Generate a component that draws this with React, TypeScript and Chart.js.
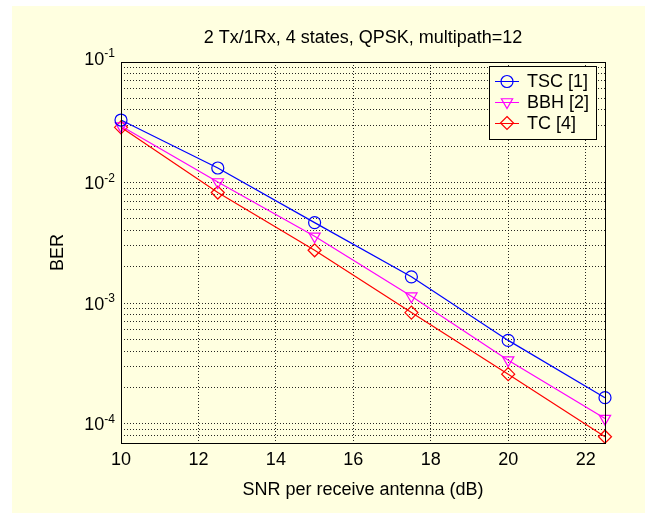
import React, { useEffect, useRef } from 'react';
import { Chart, registerables } from 'chart.js';

Chart.register(...registerables);

// ---- data ----
const snr = [10, 12.5, 15, 17.5, 20, 22.5];
const tsc = [0.033, 0.0132, 0.00465, 0.00165, 0.00049, 0.000164];
const bbh = [0.0294, 0.0101, 0.00358, 0.00114, 0.000336, 0.00011];
const tc = [0.0287, 0.00826, 0.00274, 0.000834, 0.000257, 0.0000778];

const xTicks = [10, 12, 14, 16, 18, 20, 22];
const decades = [1e-4, 1e-3, 1e-2];
const mantissas = [1, 2, 3, 4, 5, 6, 7, 8, 9];
const yTicks: number[] = [8e-5, 9e-5];
decades.forEach((d) => mantissas.forEach((m) => yTicks.push(m * d)));
yTicks.push(1e-1);

const titleText = '2 Tx/1Rx, 4 states, QPSK, multipath=12';
const xTitle = 'SNR per receive antenna (dB)';
const yTitle = 'BER';

const FONT = '"Liberation Sans", Arial, Helvetica, sans-serif';
const FS = 18;
const BG = '#ffffe0';

const sup: Record<string, string> = {
  '-': '\u207B', '0': '\u2070', '1': '\u00B9', '2': '\u00B2', '3': '\u00B3', '4': '\u2074',
  '5': '\u2075', '6': '\u2076', '7': '\u2077', '8': '\u2078', '9': '\u2079',
};

const bgPlugin = {
  id: 'bgPlugin',
  beforeDraw(chart: any) {
    const { ctx, width, height } = chart;
    ctx.save();
    ctx.fillStyle = '#ffffff';
    ctx.fillRect(0, 0, width, height);
    ctx.fillStyle = BG;
    ctx.fillRect(12, 6, width - 12, height - 6);
    ctx.restore();
  },
};

// draws "10" with a raised exponent for each decade tick of the y axis
const expLabelPlugin = {
  id: 'expLabelPlugin',
  afterDraw(chart: any) {
    const { ctx } = chart;
    const ys = chart.scales.y;
    const xr = ys.right - 6;
    ctx.save();
    ctx.fillStyle = '#000';
    ctx.textAlign = 'right';
    ctx.textBaseline = 'alphabetic';
    ys.ticks.forEach((t: any) => {
      const e = Math.log10(t.value);
      const re = Math.round(e);
      if (Math.abs(e - re) > 1e-6) return;
      let py = ys.getPixelForValue(t.value);
      if (Math.abs(py - chart.chartArea.top) < 1) py -= 4;
      const expStr = String(re);
      ctx.font = `12px ${FONT}`;
      const ew = ctx.measureText(expStr).width;
      ctx.fillText(expStr, xr, py + 6.5 - 7.3);
      ctx.font = `${FS}px ${FONT}`;
      ctx.fillText('10', xr - ew, py + 6.5);
    });
    ctx.restore();
  },
};

const framePlugin = {
  id: 'framePlugin',
  afterDatasetsDraw(chart: any) {
    const { ctx, chartArea } = chart;
    const { left, top, right, bottom } = chartArea;
    ctx.save();
    ctx.strokeStyle = '#000';
    ctx.lineWidth = 1;
    ctx.setLineDash([]);
    ctx.strokeRect(Math.round(left) + 0.5, Math.round(top) + 0.5, Math.round(right - left), Math.round(bottom - top));
    ctx.restore();
  },
  afterDraw(chart: any) {
    const { ctx } = chart;
    const bx = 489, by = 66, bw = 107, bh = 73;
    ctx.save();
    ctx.fillStyle = BG;
    ctx.fillRect(bx, by, bw, bh);
    ctx.strokeStyle = '#000';
    ctx.lineWidth = 1;
    ctx.strokeRect(bx + 0.5, by + 0.5, bw, bh);
    chart.data.datasets.forEach((ds: any, i: number) => {
      const y = by + 15 + i * 21;
      ctx.strokeStyle = ds.borderColor;
      ctx.lineWidth = 1;
      ctx.beginPath();
      ctx.moveTo(495, y + 0.5);
      ctx.lineTo(519, y + 0.5);
      ctx.stroke();
      ctx.lineWidth = 1.2;
      const cx = 507;
      ctx.beginPath();
      if (ds.pointStyle === 'circle') {
        ctx.arc(cx, y + 0.5, 6, 0, Math.PI * 2);
      } else if (ds.pointStyle === 'triangle') {
        const r = 6.5;
        ctx.moveTo(cx - r * 0.866, y - r * 0.5);
        ctx.lineTo(cx + r * 0.866, y - r * 0.5);
        ctx.lineTo(cx, y + r);
        ctx.closePath();
      } else {
        const r = 6.5;
        ctx.moveTo(cx, y - r);
        ctx.lineTo(cx + r, y);
        ctx.lineTo(cx, y + r);
        ctx.lineTo(cx - r, y);
        ctx.closePath();
      }
      ctx.stroke();
      ctx.fillStyle = '#000';
      ctx.font = `${FS}px ${FONT}`;
      ctx.textBaseline = 'middle';
      ctx.textAlign = 'left';
      ctx.fillText(ds.label, 527, y + 1);
    });
    ctx.restore();
  },
};

export default function App() {
  const ref = useRef<HTMLCanvasElement | null>(null);
  useEffect(() => {
    if (!ref.current) return;
    const mk = (label: string, data: number[], color: string, style: string, rot: number, r: number) => ({
      label,
      data: snr.map((x, i) => ({ x, y: data[i] })),
      borderColor: color,
      backgroundColor: 'rgba(0,0,0,0)',
      borderWidth: 1.2,
      pointStyle: style,
      pointRotation: rot,
      pointRadius: r,
      pointBorderWidth: 1.2,
      pointBackgroundColor: 'rgba(0,0,0,0)',
      pointBorderColor: color,
      fill: false,
      tension: 0,
      clip: false as any,
    });
    const chart = new Chart(ref.current, {
      type: 'line',
      data: {
        datasets: [
          mk('TSC [1]', tsc, '#0000ff', 'circle', 0, 6),
          mk('BBH [2]', bbh, '#ff00ff', 'triangle', 180, 6.5),
          mk('TC [4]', tc, '#ff0000', 'rectRot', 0, 6.5),
        ],
      },
      options: {
        responsive: false,
        animation: false,
        layout: { padding: { left: 0, right: 40, top: 0, bottom: 0 } },
        plugins: {
          legend: { display: false },
          tooltip: { enabled: false },
          title: {
            display: true,
            text: titleText,
            fullSize: false,
            color: '#000',
            font: { family: FONT, size: FS, weight: 'normal' as any },
            padding: { top: 27.2, bottom: 13.2 },
          },
        },
        scales: {
          x: {
            type: 'linear',
            min: 10,
            max: 22.5,
            afterBuildTicks: (s: any) => { s.ticks = xTicks.map((v) => ({ value: v })); },
            afterFit: (s: any) => { s.height = 70; },
            ticks: {
              color: '#000',
              font: { family: FONT, size: FS },
              padding: 6.5,
              maxRotation: 0,
              callback: (v: any) => String(v),
            },
            grid: { color: 'rgba(0,0,0,0.85)', drawTicks: false, lineWidth: 1 },
            border: { display: false, dash: [1, 2] },
            title: {
              display: true,
              text: xTitle,
              color: '#000',
              font: { family: FONT, size: FS },
              padding: { top: 0, bottom: 12.5 },
            },
          },
          y: {
            type: 'logarithmic',
            min: 6.9e-5,
            max: 0.1,
            afterBuildTicks: (s: any) => { s.ticks = yTicks.map((v) => ({ value: v })); },
            afterFit: (s: any) => { s.width = 121; },
            ticks: {
              color: 'rgba(0,0,0,0)',
              font: { family: FONT, size: FS },
              padding: 6,
              autoSkip: false,
              callback: (v: any) => {
                const e = Math.log10(Number(v));
                if (Math.abs(e - Math.round(e)) < 1e-6) {
                  const s = String(Math.round(e)).split('').map((c) => sup[c] || c).join('');
                  return '10' + s;
                }
                return '';
              },
            },
            grid: { color: 'rgba(0,0,0,0.85)', drawTicks: false, lineWidth: 1 },
            border: { display: false, dash: [1, 2] },
            title: {
              display: true,
              text: yTitle,
              color: '#000',
              font: { family: FONT, size: FS },
              padding: { top: 47.2, bottom: 0 },
            },
          },
        },
      },
      plugins: [bgPlugin, framePlugin, expLabelPlugin],
    });
    return () => chart.destroy();
  }, []);
  return (
    <div style={{ position: 'fixed', left: 0, top: 0, width: 645, height: 513 }}>
      <canvas ref={ref} width={645} height={513} style={{ display: 'block' }} />
    </div>
  );
}
